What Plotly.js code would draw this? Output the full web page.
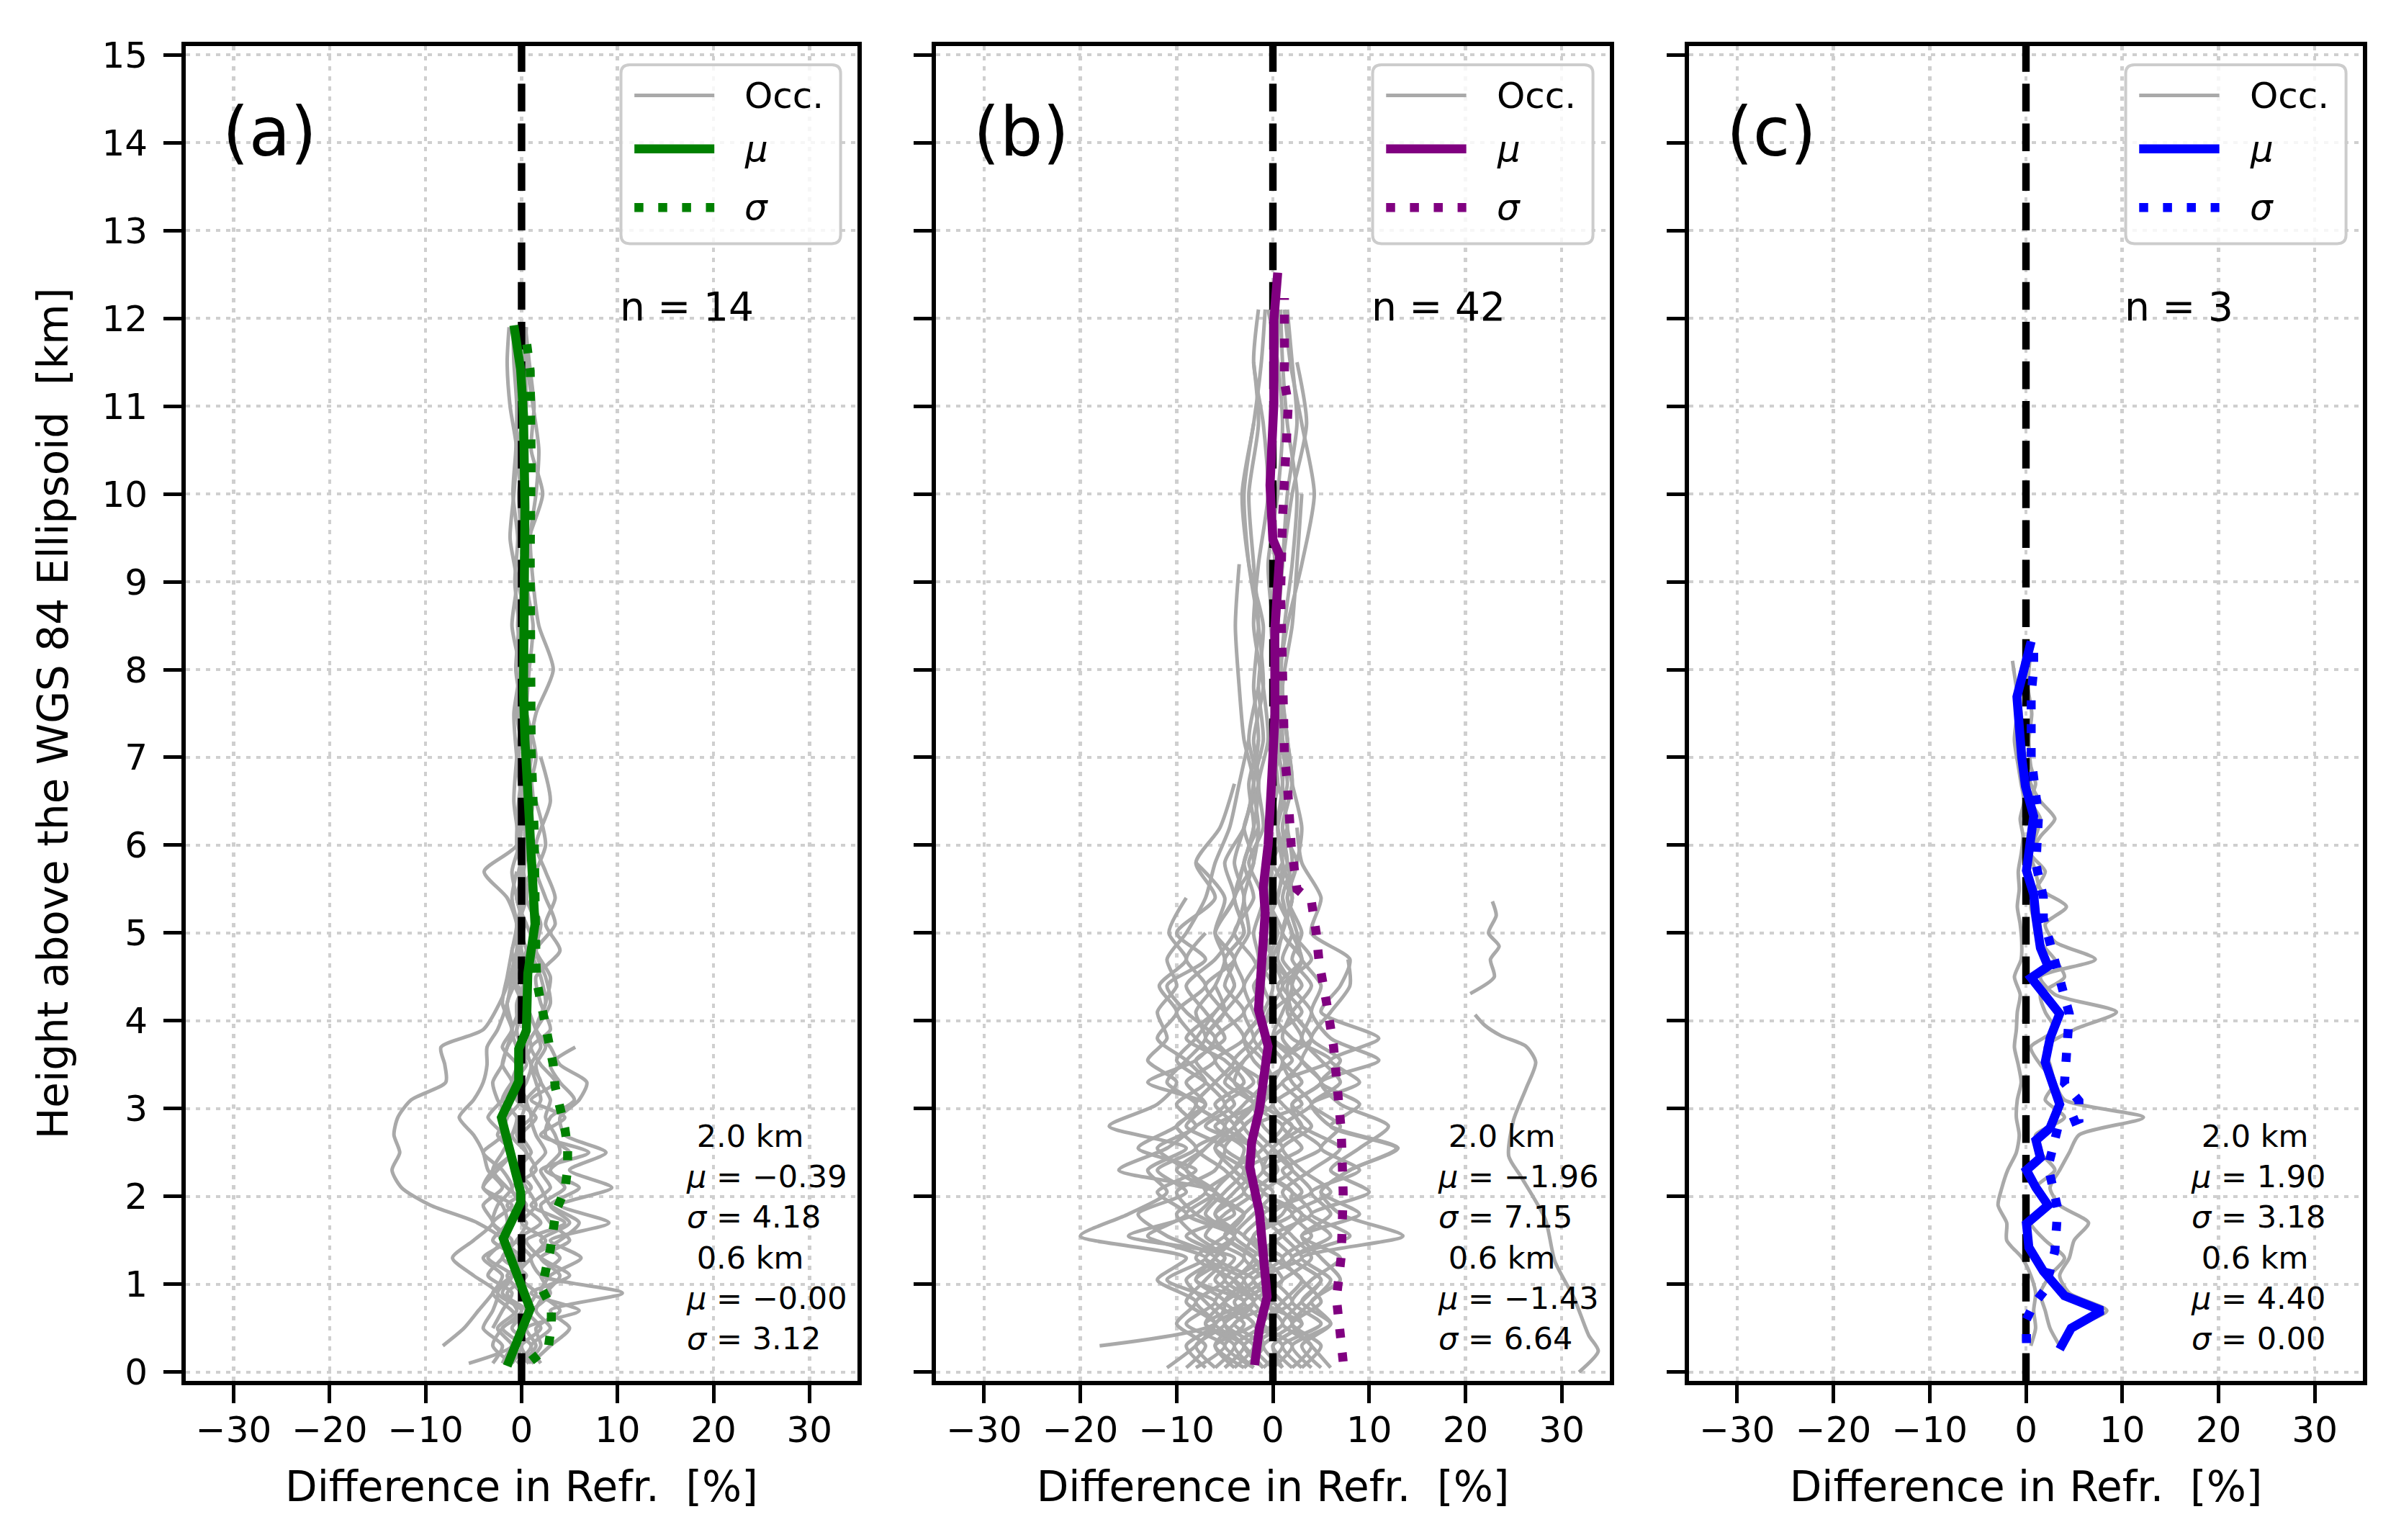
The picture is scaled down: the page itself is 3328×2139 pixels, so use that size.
<!DOCTYPE html>
<html>
<head>
<meta charset="utf-8">
<script src="https://cdn.plot.ly/plotly-3.0.1.min.js"></script>
<style>
  html, body { margin: 0; padding: 0; background: #fff; }
  #fig { width: 3328px; height: 2139px; }
</style>
</head>
<body>
<div id="fig"></div>
<script>
// axes and labels
var xTicks = [-30, -20, -10, 0, 10, 20, 30];
var yTicks = [0, 1, 2, 3, 4, 5, 6, 7, 8, 9, 10, 11, 12, 13, 14, 15];
var xRange = [-35, 35];
var yRange = [-0.1, 15.1];
var panelLetters = ['(a)', '(b)', '(c)'];
var panelCounts = ['n = 14', 'n = 42', 'n = 3'];
var stat20Mu = ['\u22120.39', '\u22121.96', '1.90'];
var stat20Sigma = ['4.18', '7.15', '3.18'];
var stat06Mu = ['\u22120.00', '\u22121.43', '4.40'];
var stat06Sigma = ['3.12', '6.64', '0.00'];
var meanColors = ['green', 'purple', 'blue'];
var occColor = 'darkgray';

// panel (a): 14 occultations on a common height grid [km]
var hA = [0.1,0.3,0.5,0.7,0.9,1.1,1.3,1.5,1.7,1.9,2.1,2.3,2.5,2.7,2.9,3.1,3.3,3.5,3.7,3.9,4.2,4.5,4.8,5.1,5.4,5.7,6.0,6.5,7,7.5,8,8.5,9,9.5,10,10.5,11,11.5,11.9];
var occA = [
  [-0.5,1,-1,0.5,-2,-1,-3.5,-2,-4.6,-9.5,-12.5,-13.5,-12.7,-13.3,-12.9,-11.5,-7.9,-8.0,-8.4,-4.0,-2.3,-1.2,-0.5,0.3,-0.5,0.2,0.5,0,0.6,-0.2,0.3,-0.4,0.2],
  [1,3,5,3,10.5,2,1,4,6,3,2,1,2.5,1.5,1,2,1.5,1,2,1.5,2.5,2,1,1.5,0.5,1,0.5,1.2,0.8,1.5,3.3,1.8,1.2,0.9,1.5,1.8,1.2,0.5,0.2],
  [null,-8.2,-6,-4.5,-3,-2,-4,-1.5,-3,-1,-4,-2.5,-1,-2,-1.5,0,-1,-0.5,-2,-1,-1.5,-0.5,-1,0,-0.5,-1,-0.3,-0.8,-0.5,0,-0.6,-0.3,-0.7,-0.4,-0.9,-0.6,-0.5,-0.8,-0.9],
  [-5.5,-1,-2.5,-0.5,-1.5,0.5,-2,-0.5,0.5,-1.5,1,-0.5,0.5,-0.5,0,0.5,-0.5,0,1,0.5,0,0.5,1.5,0.5,-0.5,1,0.5,0.2,1,0.5,0.8,1.2,0.5,0.8,2.2,1.0,1.3,0.8,0.4],
  [0.5,2,1.5,4,2,3,6.2,3,9.1,4,9.4,5,8.8,4.5,4,6,6.8,4,3,1.5,2.5,3,1.5,2,1,1.5,2.5,1.5],
  [-3,-2,-4,-3,-2.5,-5,-7.2,-5,-3,-4,-2,-3.5,-4,-5,-6.5,-5,-4,-3.6,-3.6,-2.5,-1.5,-1,-0.5,-0.5,-1.5,-3.9,-0.5,0],
  [2,1,3,1.5,2.5,4,2,5,3,2,4.5,3,5,2.5,3,5.5,4,3,5.6],
  [-1,0,-2,1,0,-1.5,1,-0.5,2,0,-1,1.5,0.5,-1,1,0.5,2,1,0.5,1.5,3,2.5,1.5,3.5,2.5,1.5,1,0.5,1.5,0.5],
  [-2,-1,0.5,-1,-3,-1,0,-2,-1,0.5,-1.5,-3,-2,-1,-0.5,-2,-1,0.5,-0.5,-1,0,-1,0.5,-0.5,0.5,0,-0.5,-0.3,0.2,-0.5,0,0.5,-0.3,0.3,0,-0.5,0.5,0.3,0.5],
  [0,1.5,0.5,6,1,5,2,0.5,4.5,1,3,2,7,2,4.5,1,3.5,2,1,3,2,1.5,4,2.5,3.5,2.5,1.5,3.0,2.0],
  [1,0,2,0.5,1.5,-0.5,1,2.5,0,1.5,0.5,-0.5,1,0,1.5,-0.5,0.5,1,0,-0.5,0.5,-0.8,-0.2,-0.5,0.2,-0.3,0.5,0,-0.5,-0.8,-0.2,-1,-0.5,-1.2,-0.8,-0.5,-1.2,-1.5,-1.3],
  [null,null,-3,-2,-1,-3.5,-2,-1,-3,-2.5,-1,-2,-4,-2,-3.5,-2,-1,-2,-1.5,-1,-2,-1.5,-1,-0.5,-1,-0.5],
  [null,null,null,1,3,2,4,2,5,3,6,2.5,4,3.5,2.5,3,2,1.5,2.5,1.5,0.5],
  [-1,-3,-2,0,-2.5,-1,-0.5,-3,-1.5,-2,-4,-3,-1,-2.5,-1.5,-2.5,-3,-2,-1.5,-0.5,-0.5,0.5,0,-0.3,0.5,0.2,-0.2,0.3,-0.3,0,0.5,-0.2,0.3,0,-0.3,0.2,-0.2,-0.6]
];
var muA_h = [0.07,0.72,1.52,1.93,2.05,2.9,3.31,3.68,3.89,4.54,5.1,6.0,6.5,7.2,7.75,8.8,9.85,10.9,11.42,11.92];
var muA_x = [-1.5,0.9,-1.9,-0.1,-0.1,-2.1,-0.3,-0.3,0.5,0.65,1.4,0.9,0.75,0.35,0.2,0.35,0.35,0.2,-0.1,-0.8];
var sigA_h = [0.13,0.29,0.52,0.74,0.95,1.4,1.84,2.07,2.31,2.56,2.78,3.03,3.25,3.5,3.72,3.97,4.19,4.44,4.66,5.64,6.2,7.1,8.0,9.3,10.4,11.4,11.87];
var sigA_x = [1.0,2.8,3.1,3.1,2.1,3.0,3.6,4.5,4.8,4.8,4.5,4.0,3.5,3.3,2.9,2.4,1.9,1.6,1.5,1.4,1.3,1.0,0.9,0.9,1.0,0.9,0.35];

// panel (b)
var hB = [0.05,0.3,0.55,0.8,1.05,1.3,1.55,1.8,2.05,2.3,2.55,2.8,3.05,3.3,3.55,3.8,4.1,4.4,4.7,5.0,5.4,5.8,6.2,6.7,7.2,7.8,8.5,9.2,10.0,10.8,11.5,12.1];
var occB = [
  [-3,-1,-4,0,-2,1,-3,-1,-2,0.5,-1,-3,0,-1.5,-0.5,-2,0,-1,-0.5,0.5,-0.5,0,-0.3,0.5,0,0.3,-0.2,0.2,-0.3,0,0.4,0.6],
  [2,4,1,3,5,2,6,3,1,4,7,3,2,5,3,4,2,1.5,3,2,1,2,1.5,1,1.5,0.8,1.2,2,2.5,1.5,1,0.8],
  [-6,-4,-7,-3,-8,-5,-9,-4,-6,-10,-7,-5,-8,-6,-4,-7,-5,-3,-4,-2.5,-3,-2,-1.5,-2,-1,-1.5,-1,-2.5,-3.2,-2,-1.2,-0.8],
  [0,-2,1,-1,-3,0,-2,2,-1,-3,1,-1,-2,0,1,-1,-0.5,1,0,-1,0.5,1,0.5,0,1,0.5,1.5,3,4.3,3,1.8,1.2],
  [-2,-5,-3,-6,-4,-2,-5,-3,-7,-4,-3,-6,-2,-4,-3,-1,-2,-3,-1.5,-2,-1,-2.5,-1,-1.5,-0.5,-1,-2,-1.5,-0.5,-1,-2,-1.5],
  [1,0,3,1,-1,2,0,4,2,-1,3,1,4,2,1,3,1.5,2,0.5,1,2,1,0.5,1.5,0.8,0,0.5,1,1.5,2.5,2,1.5],
  [-8,-5,-9,-6,-11,-7,-13,-9,-12,-8,-14,-10,-8,-11,-9,-7,-8,-6,-5,-6,-4,-3,-2,-2.5,-1.5,-2,-1.5,-2,-2.5,-1.5,-2],
  [3,1,5,2,4,7,3,9,5,8,13,6,4,7,5,3,4,2,3,1,2,1.5,0.5,1,0.5,1,0.2,1,2,3.5,2.5],
  [-4,-6,-2,-5,-3,-7,-4,-6,-3,-5,-8,-4,-6,-3,-5,-9,-6,-4,-5,-3,-4,-2,-3,-1.5,-2,-1,-1.5,-2.5,-3,-2],
  [-1,1,-1.5,2,0,-2,1,3,-1,2,0,-2,3,1,6,2,0,3,1,2,0.5,1.5,1,2,1.5,1,2,2.5,3],
  [-5,-3,-6,-2,-4,-8,-5,-3,-6,-4,-2,-7,-4,-6,-8,-5,-7,-9,-6,-4,-3,-4,-3,-2,-3,-3.5,-3.9,-3.5],
  [-9,-7,-10,-8,-12,-9,-20,-15,-11,-13,-9,-17,-12,-10,-13,-11,-12,-10,-11,-9,-7,-6,-4.5,-3.5,-2.5],
  [4,2,6,3,5,2,8,4,10,6,9,12,7,5,11,6,4,5,3,2.5,1.5,2.5,3,2,1],
  [-3,-6,-4,-2,-5,-3,-7,-5,-2,-4,-6,-3,-5,-2,-4,-6,-3,-5,-4,-6,-4,-5,-3,-2,-1.5],
  [-7,-9,-6,-8,-5,-7,-4,-8,-10,-6,-5,-9,-7,-13,-8,-6,-9,-11,-7,-10,-6,-8,-5.5,-4],
  [2,0,3,-1,1,4,2,0,3,1,5,2,0,3,1,4,2,0.5,3,1,2,0,1.5,0.5],
  [-2,-4,-1,-3,0,-2,-5,-3,-1,-4,-2,-5,-3,-1,-4,-2,-3,-1,-2,-4,-2,-3,-1.5],
  [5,3,6,4,7,5,3,6,4,9,5,7,4,9,6,11,5,7,8,4,5,3,2.5],
  [-1,-3,-5,-2,-4,-1,-3,-6,-4,-2,-5,-3,-1,-4,-6,-3,-5,-7,-4,-6,-5,-8],
  [0,2,-1,1,3,0,-2,1,2,-1,0,2,-1,1,3,0,1,2,0,1,-0.5,1],
  [-11,-8,-6,-9,-7,-5,-8,-10,-7,-9,-12,-8,-10,-7,-9,-12,-10,-11.8,-9,-10.8,-9],
  [1,-1,2,0,-2,3,1,-1,4,2,0,3,1,-1,2,0,3,1,4,2,1],
  [-6,-8,-5,-7,-9,-6,-11,-14,-9,-12,-8,-10,-7,-9,-6,-8,-10,-7,-9,-7],
  [-3,-1,-2,-4,-1,-3,-2,0,-3,-1,-2,-4,-2,0,-2,-3,-1,-2,0,-1],
  [3,5,2,4,6,3,13.5,7,5,8,12.8,6,9,5,7,4,6,8,7.8],
  [-4,-2,-5,-3,-6,-4,-15,-8,-6,-9,-7,-5,-8,-6,-4,-7,-5,-6],
  [null,-18,-6,-5,-8,-6,-4,-7,-5,-3,-6,-4,-2,-5,-3,-1,-2],
  [-1,-3,0,-2,1,-1,-4,-2,0,-3,-1,1,-2,0,-1,-3,-1,0,-1.5,0,-1,0,-0.5,0.5,-0.5,0.5,0,-0.5,0.5,1,0.5,-0.5],
  [-5,-3,-7,-5,-2,-6,-4,-9,-6,-16,-11,-8,-5,-7,-10,-8,-6,-4,-5,-3,-4,-3,-2,-1.5,-2.5,-1.5],
  [6,4,2,5,3,1,4,2,6,3,1,4,2,5,3,1,2,4,2,3,1.5,2.5,1,2,1.5,0.5]
];
// the one far-off profile in (b), with its data gap near 4.2 km
var outB_h = [5.36,5.2,5.0,4.85,4.7,4.5,4.31,null,4.07,3.95,3.83,3.71,3.53,3.23,2.87,2.46,2.22,1.74,1.26,0.84,0.42,0.24,0.0];
var outB_x = [22.8,23.2,22.4,23.5,22.6,23.0,20.5,null,21.0,22.0,23.7,26.3,27.3,26.3,25.0,24.5,25.8,28.3,29.3,31.3,32.8,33.8,31.8];
var muB_h = [0.08,0.5,0.86,1.82,2.33,2.62,2.99,3.31,3.71,4.13,4.87,5.23,5.52,6.0,6.8,7.45,8.45,9.3,9.48,10.1,11.03,11.98,12.52];
var muB_x = [-1.9,-1.4,-0.6,-1.4,-2.4,-2.2,-1.4,-1.0,-0.5,-1.5,-1.0,-0.8,-1.0,-0.5,-0.1,0.2,0.2,0.7,0.0,-0.3,0.1,0.1,0.5];
var sigB_h = [0.12,0.54,0.84,1.32,2.04,2.75,3.23,3.71,4.19,4.67,5.0,5.36,5.5,6.0,6.7,7.04,7.98,8.87,9.72,10.33,11.03,11.27,11.74,12.23];
var sigB_x = [7.3,6.8,6.6,7.1,7.3,7.1,6.8,6.3,5.6,4.8,4.5,4.0,2.5,1.9,1.5,1.2,1.0,0.8,1.0,1.3,1.6,1.2,1.1,1.2];

// panel (c)
var hC = [0.3,0.5,0.7,0.9,1.1,1.3,1.5,1.7,1.9,2.1,2.3,2.5,2.7,2.9,3.1,3.3,3.5,3.7,3.9,4.1,4.3,4.5,4.7,4.9,5.1,5.3,5.5,5.7,5.9,6.1,6.3,6.5,6.7,6.9,7.2,7.5,7.8,8.1];
var occC = [
  [4,5,8.4,4.5,3.5,4.5,5,6.5,3.5,2.5,3.5,4.5,5.5,12.2,4,3,2.5,2,5,9.4,3,1.5,7.2,3,2,4.2,1.5,1,0.5,1.5,3,1.5,0.5,0,-0.3,-0.5,-1,-1.4],
  [0.5,1,0.8,1,0.5,-0.4,-2,-2,-2.9,-2.5,-1.9,-1,-0.7,-1,-0.9,-0.5,-0.8,-1.2,-1,-0.9,-0.6,-1.2,-0.5,-0.44,-0.6,-0.9,-0.7,-0.8,-0.5,-0.3,-0.6,-0.2,-0.5,-0.8,-1.2,-0.9,-0.5,-0.3],
  [3.5,2.5,2,1.5,2.5,4,2,0.5,2,1,3,1.5,1,4,2,3,1.5,0.5,3,2,1.5,4,3,1.5,1,0.5,1,2,0.5,1,1.5,0.5,1,0.5,0.3,0.6,0.2,0.4]
];
var muC_h = [0.26,0.5,0.70,0.87,1.15,1.42,1.69,1.9,2.1,2.3,2.44,2.64,2.78,3.05,3.53,3.8,4.08,4.28,4.49,4.62,4.83,5.17,5.44,5.71,6.05,6.33,6.67,7.0,7.69,8.03,8.32];
var muC_x = [3.5,4.7,7.9,4.0,1.8,0.3,0.05,2.3,1.04,0.05,1.5,1.04,2.5,3.5,2.0,2.5,3.5,2.0,0.54,2.3,1.5,1.04,0.8,0.05,0.54,0.8,-0.05,-0.44,-0.94,-0.2,0.54];
var sigC_h = [0.33,0.6,0.77,0.94,1.38,1.86,2.34,2.78,2.88,3.09,3.29,4.08,4.76,5.17,5.41,5.78,6.33,6.73,7.0,7.25,7.52,7.72,8.0,8.27];
var sigC_x = [0.05,0.05,0.8,2.0,3.0,3.3,2.3,3.3,5.5,5.5,4.0,4.5,2.8,1.8,1.8,1.04,1.3,0.8,0.54,0.54,0.54,0.54,0.8,0.8];

var panels = [
  {h: hA, occ: occA, muH: muA_h, muX: muA_x, sgH: sigA_h, sgX: sigA_x},
  {h: hB, occ: occB, muH: muB_h, muX: muB_x, sgH: sigB_h, sgX: sigB_x, extraH: outB_h, extraX: outB_x},
  {h: hC, occ: occC, muH: muC_h, muX: muC_x, sgH: sigC_h, sgX: sigC_x}
];
var panelDomains = [[0, 0.3085], [0.3446, 0.6541], [0.6905, 1]];

var dotDash = '12.5px,20.6px';
var data = [], annotations = [], shapes = [];

function axId(prefix, i) { return i === 0 ? prefix : prefix + (i + 1); }

function lineTrace(x, y, i, color, width, dash, shape) {
  return {
    type: 'scatter', mode: 'lines', x: x, y: y,
    xaxis: axId('x', i), yaxis: axId('y', i),
    line: {color: color, width: width, dash: dash || 'solid', shape: shape || 'linear', smoothing: 0.7},
    hoverinfo: 'skip', showlegend: false
  };
}

function roundBox(x0, x1, y0, y1, rx, ry) {
  return 'M' + (x0 + rx) + ',' + y1 + ' L' + (x1 - rx) + ',' + y1 +
    ' Q' + x1 + ',' + y1 + ' ' + x1 + ',' + (y1 - ry) + ' L' + x1 + ',' + (y0 + ry) +
    ' Q' + x1 + ',' + y0 + ' ' + (x1 - rx) + ',' + y0 + ' L' + (x0 + rx) + ',' + y0 +
    ' Q' + x0 + ',' + y0 + ' ' + x0 + ',' + (y0 + ry) + ' L' + x0 + ',' + (y1 - ry) +
    ' Q' + x0 + ',' + y1 + ' ' + (x0 + rx) + ',' + y1 + ' Z';
}

panels.forEach(function(p, i) {
  var xa = axId('x', i), ya = axId('y', i);
  var col = meanColors[i];

  p.occ.forEach(function(prof) {
    data.push(lineTrace(prof, p.h.slice(0, prof.length), i, occColor, 5, 'solid', 'spline'));
  });
  if (p.extraH) data.push(lineTrace(p.extraX, p.extraH, i, occColor, 5, 'solid', 'spline'));

  // zero reference
  data.push(lineTrace([0, 0], yRange, i, 'black', 10.4, '38.5px,16.6px'));
  data.push(lineTrace(p.muX, p.muH, i, col, 12.5));
  data.push(lineTrace(p.sgX, p.sgH, i, col, 12.5, dotDash));

  var xd = xa + ' domain', yd = ya + ' domain';
  var fam = 'DejaVu Sans';

  annotations.push({xref: xa, yref: ya, x: -31.3, y: 14.12, xanchor: 'left', yanchor: 'middle',
    text: panelLetters[i], showarrow: false, font: {family: fam, size: 94}});
  annotations.push({xref: xa, yref: ya, x: 10.1, y: 12.13, xanchor: 'left', yanchor: 'middle',
    text: panelCounts[i], showarrow: false, font: {family: fam, size: 55}});
  annotations.push({xref: xa, yref: ya, x: 17, y: 2.23, xanchor: 'left', yanchor: 'middle', align: 'left',
    text: '\u00a02.0 km<br><i>\u03bc</i> = ' + stat20Mu[i] + '<br><i>\u03c3</i> = ' + stat20Sigma[i],
    showarrow: false, font: {family: fam, size: 43}});
  annotations.push({xref: xa, yref: ya, x: 17, y: 0.84, xanchor: 'left', yanchor: 'middle', align: 'left',
    text: '\u00a00.6 km<br><i>\u03bc</i> = ' + stat06Mu[i] + '<br><i>\u03c3</i> = ' + stat06Sigma[i],
    showarrow: false, font: {family: fam, size: 43}});

  // legend box
  shapes.push({type: 'path', xref: xd, yref: yd, layer: 'above',
    path: roundBox(0.648, 0.975, 0.852, 0.986, 0.013, 0.0065),
    fillcolor: 'rgba(255,255,255,0.8)', line: {color: '#cccccc', width: 4}});
  var entries = [
    {label: 'Occ.', color: occColor, width: 5, dash: 'solid', y: 0.963},
    {label: '<i>\u03bc</i>', color: col, width: 12.5, dash: 'solid', y: 0.923},
    {label: '<i>\u03c3</i>', color: col, width: 12.5, dash: dotDash, y: 0.879}
  ];
  entries.forEach(function(e) {
    shapes.push({type: 'line', xref: xd, yref: yd, layer: 'above', x0: 0.668, x1: 0.787, y0: e.y, y1: e.y,
      line: {color: e.color, width: e.width, dash: e.dash}});
    annotations.push({xref: xd, yref: yd, x: 0.830, y: e.y, xanchor: 'left', yanchor: 'middle',
      text: e.label, showarrow: false, font: {family: fam, size: 50}});
  });
});

function xAxis(i) {
  return {
    domain: panelDomains[i], anchor: axId('y', i), range: xRange,
    tickmode: 'array', tickvals: xTicks,
    ticks: 'outside', ticklen: 25, tickwidth: 5, tickcolor: 'black', ticklabelstandoff: -6,
    showline: true, linewidth: 6, linecolor: 'black', mirror: true,
    showgrid: true, gridcolor: '#cfcfcf', gridwidth: 4.5, griddash: '6px,8px',
    zeroline: false, tickfont: {size: 50}, automargin: false,
    title: {text: 'Difference in Refr.\u00a0 [%]', font: {size: 58}, standoff: 32}
  };
}

function yAxis(i) {
  var ax = {
    domain: [0, 1], anchor: axId('x', i), range: yRange,
    tickmode: 'array', tickvals: yTicks, showticklabels: i === 0,
    ticks: 'outside', ticklen: 25, tickwidth: 5, tickcolor: 'black', ticklabelstandoff: 12,
    showline: true, linewidth: 6, linecolor: 'black', mirror: true,
    showgrid: true, gridcolor: '#cfcfcf', gridwidth: 4.5, griddash: '6px,8px',
    zeroline: false, tickfont: {size: 50}, automargin: false
  };
  if (i === 0) ax.title = {text: 'Height above the WGS 84 Ellipsoid\u00a0 [km]', font: {size: 58}, standoff: 30};
  return ax;
}

var layout = {
  width: 3328, height: 2139,
  margin: {l: 258, r: 46, t: 64, b: 221, pad: 0},
  paper_bgcolor: 'white', plot_bgcolor: 'white',
  font: {family: 'DejaVu Sans', color: 'black'},
  showlegend: false,
  annotations: annotations,
  shapes: shapes
};
for (var i = 0; i < 3; i++) {
  layout[axId('xaxis', i)] = xAxis(i);
  layout[axId('yaxis', i)] = yAxis(i);
}

Plotly.newPlot('fig', data, layout, {displayModeBar: false, staticPlot: true});
</script>
</body>
</html>
